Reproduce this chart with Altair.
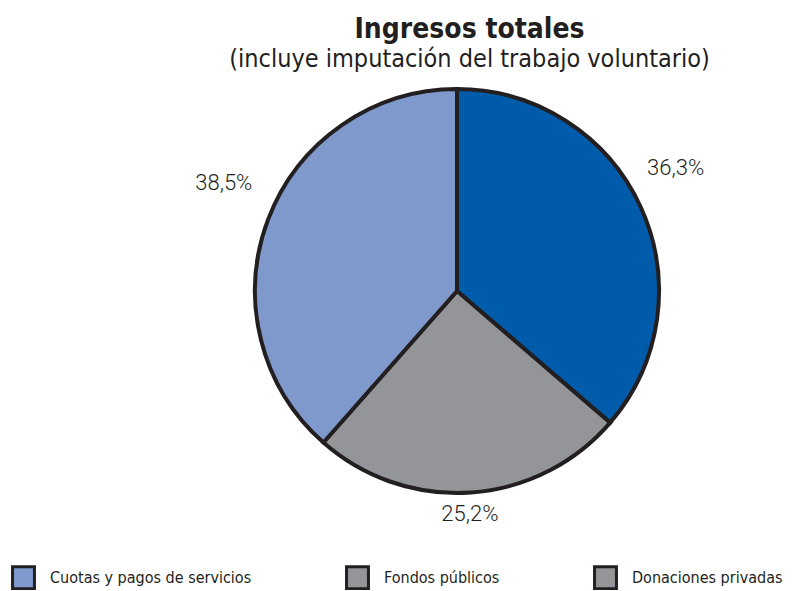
import altair as alt
import pandas as pd

# slices, clockwise from 12 o'clock
categorias = ["Donaciones privadas", "Fondos públicos", "Cuotas y pagos de servicios"]
valores = [36.3, 25.2, 38.5]
etiquetas = ["36,3%", "25,2%", "38,5%"]
colores_sector = ["#005baa", "#939598", "#7f99cd"]

# legend as printed in the reference
leyenda_cats = ["Cuotas y pagos de servicios", "Fondos públicos", "Donaciones privadas"]
leyenda_colores = ["#7f99cd", "#939598", "#939598"]

df = pd.DataFrame({
    "categoria": categorias,
    "valor": valores,
    "etiqueta": etiquetas,
    "orden": list(range(len(categorias))),
})
df_leyenda = pd.DataFrame({"leyenda": leyenda_cats})

NARROW = "DejaVu Sans Condensed, Liberation Sans Narrow, sans-serif"
INK = "#231f20"
CX, CY = 449, 213

base = alt.Chart(df).encode(
    theta=alt.Theta("valor:Q", stack=True),
    order=alt.Order("orden:Q"),
)

pie = base.mark_arc(outerRadius=202, stroke=INK, strokeWidth=4).encode(
    color=alt.Color("categoria:N",
                    scale=alt.Scale(domain=categorias, range=colores_sector),
                    legend=None),
    x=alt.value(CX), y=alt.value(CY),
)

labels = base.mark_text(radius=245, dy=-21, dx=-4, font="Roboto", fontWeight=300,
                        fontSize=22, color=INK).encode(
    text="etiqueta:N",
    x=alt.value(CX), y=alt.value(CY),
)

leyenda = alt.Chart(df_leyenda).mark_square(opacity=0, size=1).encode(
    color=alt.Color("leyenda:N",
                    scale=alt.Scale(domain=leyenda_cats, range=leyenda_colores),
                    legend=alt.Legend(
                        title=None, orient="none", direction="horizontal",
                        legendX=3, legendY=487, padding=0,
                        symbolType="square", symbolSize=480,
                        symbolOpacity=1, symbolStrokeColor=INK,
                        symbolStrokeWidth=3,
                        labelFont=NARROW, labelFontSize=16, labelColor=INK,
                        labelOffset=14, columnPadding=88,
                        labelLimit=400,
                    )),
    x=alt.value(0), y=alt.value(0),
)

chart = alt.layer(pie, labels, leyenda).resolve_scale(color="independent").properties(
    width=779, height=512,
    autosize=alt.AutoSizeParams(type="none"),
    padding={"left": 0, "top": 70, "right": 0, "bottom": 0},
    title=alt.Title(
        "Ingresos totales",
        subtitle="(incluye imputación del trabajo voluntario)",
        font=NARROW, fontSize=28, fontWeight="bold", color=INK,
        subtitleFont=NARROW, subtitleFontSize=25, subtitleColor=INK,
        subtitlePadding=3,
        anchor="middle", dx=72, offset=6,
    ),
).configure_view(stroke=None)

chart.save("out.html", embed_options={"renderer": "svg", "actions": False})
